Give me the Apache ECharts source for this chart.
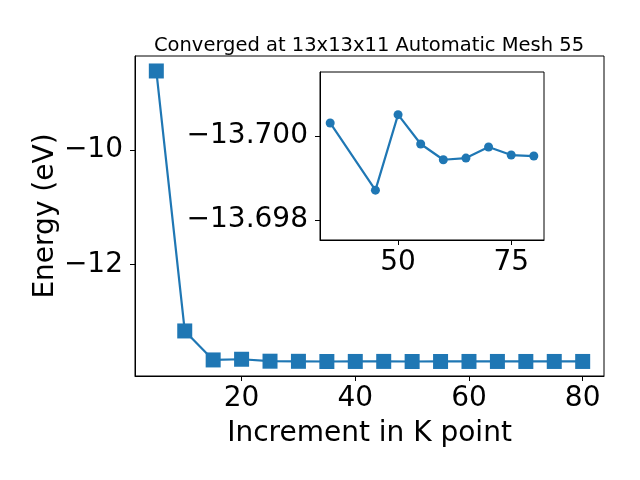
<!DOCTYPE html>
<html>
<head>
<meta charset="utf-8">
<script src="https://cdn.jsdelivr.net/npm/echarts@6/dist/echarts.min.js"></script>
<style>
  html, body { margin: 0; padding: 0; background: #fff; }
  #chart { width: 640px; height: 480px; }
</style>
</head>
<body>
<div id="chart"></div>
<script>
// k-point increments and total energies (eV)
const kPoints = [5, 10, 15, 20, 25, 30, 35, 40, 45, 50, 55, 60, 65, 70, 75, 80];
const energies = [-8.618, -13.166, -13.673, -13.661, -13.695, -13.697, -13.70031, -13.6995,
  -13.698714, -13.700507, -13.69981, -13.699436, -13.699476, -13.699738, -13.699548, -13.699524];

// inset (zoomed) data
const insetK = [35, 45, 50, 55, 60, 65, 70, 75, 80];
const insetE = [-13.70031, -13.698714, -13.700507, -13.69981, -13.699436, -13.699476, -13.699738, -13.699548, -13.699524];

// tick labels
const mainXTicks = [20, 40, 60, 80];
const mainYTicks = [-10, -12];
const insetXTicks = [50, 75];
const insetYTicks = [-13.700, -13.698];

const blue = "#1f77b4";
const font = "DejaVu Sans";
const minus = (s) => String(s).replace("-", "\u2212");

const chart = echarts.init(document.getElementById("chart"));

// 20pt at 100dpi ~ 28px
function axisBase(ticks, fmt, margin) {
  return {
    axisLine: { show: true, onZero: false, lineStyle: { color: "#000", width: 1 } },
    axisTick: { show: true, inside: false, length: 5, customValues: ticks, lineStyle: { color: "#000" } },
    axisLabel: {
      customValues: ticks,
      color: "#000",
      fontFamily: font,
      fontSize: 28,
      margin: margin,
      formatter: fmt,
    },
    splitLine: { show: false },
  };
}

const option = {
  animation: false,
  backgroundColor: "#fff",
  title: {
    text: "Converged at 13x13x11 Automatic Mesh 55",
    left: 364,
    top: 31,
    textAlign: "center",
    textStyle: { fontFamily: font, fontSize: 19.5, fontWeight: "normal", color: "#000" },
  },
  grid: [
    { left: 135, top: 56, width: 469, height: 320, show: true, borderColor: "#000", borderWidth: 1, backgroundColor: "#fff" },
    { left: 320, top: 72, width: 224, height: 168, show: true, borderColor: "#000", borderWidth: 1, backgroundColor: "#fff", z: 5 },
  ],
  xAxis: [
    Object.assign(axisBase(mainXTicks, (v) => minus(v), 9), {
      type: "value", gridIndex: 0, min: 1.25, max: 83.75,
      name: "Increment in K point", nameLocation: "middle", nameGap: 44,
      nameTextStyle: { fontFamily: font, fontSize: 28, color: "#000" },
    }),
    Object.assign(axisBase(insetXTicks, (v) => minus(v), 9), {
      type: "value", gridIndex: 1, min: 32.75, max: 82.25, z: 6,
    }),
  ],
  yAxis: [
    Object.assign(axisBase(mainYTicks, (v) => minus(v), 12), {
      type: "value", gridIndex: 0, min: -13.954, max: -8.356,
      name: "Energy (eV)", nameLocation: "middle", nameGap: 75, nameMoveOverlap: false,
      nameTextStyle: { fontFamily: font, fontSize: 28, color: "#000" },
    }),
    Object.assign(axisBase(insetYTicks, (v) => minus(v.toFixed(3)), 12), {
      type: "value", gridIndex: 1, inverse: true, min: -13.70152, max: -13.69753, z: 6,
    }),
  ],
  series: [
    {
      type: "line",
      xAxisIndex: 0,
      yAxisIndex: 0,
      data: kPoints.map((k, i) => [k, energies[i]]),
      symbol: "rect",
      symbolSize: 15,
      lineStyle: { color: blue, width: 2.2 },
      itemStyle: { color: blue },
    },
    {
      type: "line",
      xAxisIndex: 1,
      yAxisIndex: 1,
      z: 7,
      data: insetK.map((k, i) => [k, insetE[i]]),
      symbol: "circle",
      symbolSize: 9,
      lineStyle: { color: blue, width: 2.2 },
      itemStyle: { color: blue },
    },
  ],
};

chart.setOption(option);
</script>
</body>
</html>
